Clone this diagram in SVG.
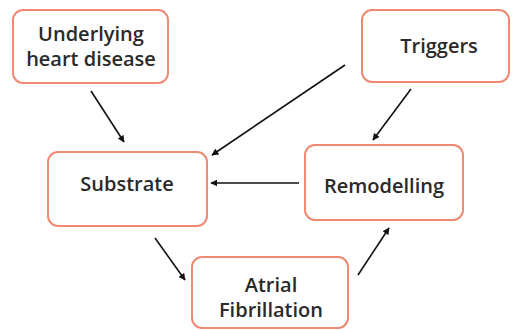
<svg xmlns="http://www.w3.org/2000/svg" width="514" height="330" viewBox="0 0 514 330">
<style>
.box{fill:#fff;stroke:#EE8A74;stroke-width:2}
.t{font-family:"Open Sans",Lato,sans-serif;font-size:20px;font-weight:600;fill:#2a2a2a;text-anchor:middle}
.c{stroke:#111;stroke-width:1.6;fill:none;marker-end:url(#ah)}
</style>
<defs>
<marker id="ah" viewBox="0 0 10 10" refX="9" refY="5" markerWidth="7" markerHeight="7" orient="auto" markerUnits="userSpaceOnUse">
<path d="M0,0 L10,5 L0,10 z" fill="#111"/>
</marker>
</defs>
<rect width="514" height="330" fill="#fff"/>
<g id="underlying">
<rect class="box" x="13" y="10" width="155" height="73" rx="10"/>
<text class="t" x="91" y="41">Underlying</text>
<text class="t" x="91" y="66">heart disease</text>
</g>
<g id="triggers">
<rect class="box" x="362" y="10" width="147" height="72" rx="10"/>
<text class="t" x="439" y="53">Triggers</text>
</g>
<g id="substrate">
<rect class="box" x="48" y="152" width="159" height="74" rx="10"/>
<text class="t" x="127" y="191">Substrate</text>
</g>
<g id="remodelling">
<rect class="box" x="305" y="145" width="158" height="75" rx="10"/>
<text class="t" x="384" y="193">Remodelling</text>
</g>
<g id="af">
<rect class="box" x="192" y="257" width="156" height="71" rx="10"/>
<text class="t" x="271" y="292">Atrial</text>
<text class="t" x="271" y="317">Fibrillation</text>
</g>
<g id="connectors">
<line class="c" x1="91" y1="91" x2="124" y2="142"/>
<line class="c" x1="345" y1="65" x2="212" y2="155"/>
<line class="c" x1="411" y1="89" x2="373" y2="140"/>
<line class="c" x1="299" y1="183" x2="211" y2="183"/>
<line class="c" x1="155" y1="238" x2="185" y2="280"/>
<line class="c" x1="358" y1="275" x2="389" y2="228"/>
</g>
</svg>
